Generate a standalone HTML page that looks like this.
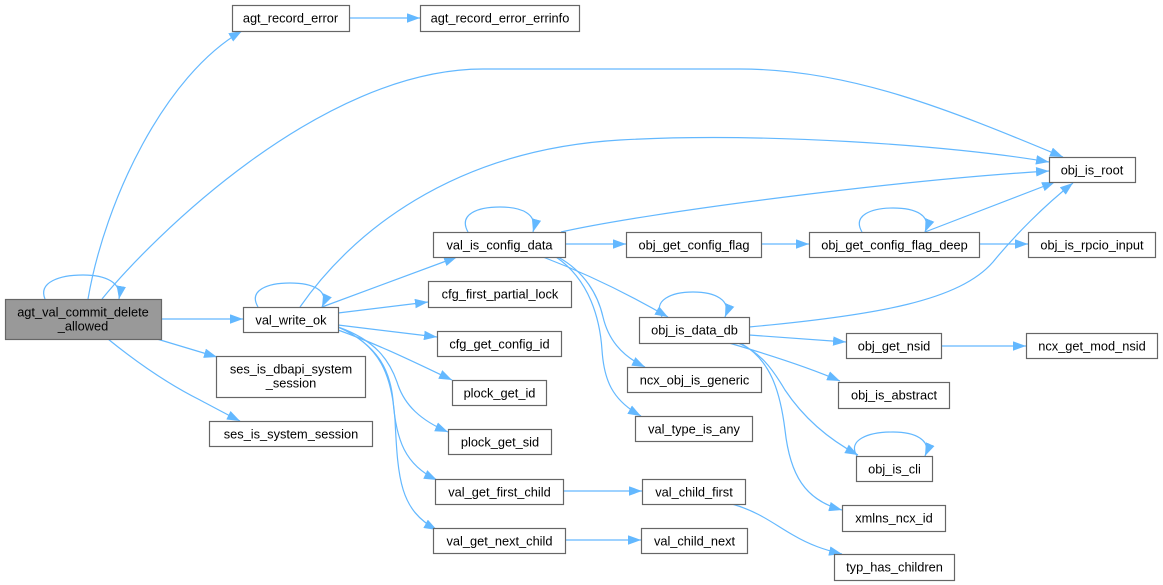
<!DOCTYPE html>
<html><head><meta charset="utf-8"><style>
html,body{margin:0;padding:0;background:#fff;}
svg{display:block;}
text{font-family:"Liberation Sans",Arial,sans-serif;font-size:12.8px;fill:#000;text-anchor:middle;}
.n{fill:#fff;stroke:#666;stroke-width:1.2;}
.e{fill:none;stroke:#63b8ff;stroke-width:1.2;marker-end:url(#a);}
</style></head><body>
<svg width="1163" height="585" viewBox="0 0 1163 585" xmlns="http://www.w3.org/2000/svg">
<defs>
<marker id="a" viewBox="0 0 10 7" refX="10" refY="3.5" markerWidth="13" markerHeight="9.5" markerUnits="userSpaceOnUse" orient="auto" preserveAspectRatio="none">
<path d="M0,0 L10,3.5 L0,7 z" fill="#63b8ff"/>
</marker>
</defs>

<!-- edges -->
<path class="e" d="M88,299 C105,200 165,75 242,31"/>
<path class="e" d="M102,299 C150,240 320,69 483,69 L740,69 C850,69 950,110 1063,157"/>
<path class="e" d="M45,299 C38,282 60,275 83,275 C105,275 122,282 119,299"/>
<path class="e" d="M161,319 L243,319"/>
<path class="e" d="M157,339 L217,357"/>
<path class="e" d="M108,339 C140,365 170,385 200,400 C215,408 228,415 240,421"/>
<path class="e" d="M349,18 L420,18"/>

<path class="e" d="M258,307 C248,290 268,283 290,283 C312,283 330,290 322,307"/>
<path class="e" d="M300,307 C350,235 450,150 620,140 C760,132 950,145 1049,162"/>
<path class="e" d="M322,307 L457,257"/>
<path class="e" d="M338,313 L428,302"/>
<path class="e" d="M338,325 L437,337"/>
<path class="e" d="M338,330 C380,345 420,365 452,380"/>
<path class="e" d="M338,327 C375,340 390,360 398,385 C405,405 420,420 448,432"/>
<path class="e" d="M338,327 C378,345 390,370 393,400 C396,440 405,465 437,480"/>
<path class="e" d="M338,327 C380,345 392,375 395,420 C398,480 400,510 437,530"/>

<path class="e" d="M468,232 C458,214 478,207 500,207 C522,207 538,214 533,232"/>
<path class="e" d="M561,232 C650,212 900,180 1049,171"/>
<path class="e" d="M565,244 L626,244"/>
<path class="e" d="M543,257 C590,275 630,295 668,317"/>
<path class="e" d="M558,257 C585,272 598,295 603,317 C608,338 620,355 645,367"/>
<path class="e" d="M556,257 C590,280 600,320 602,350 C604,380 612,400 641,416"/>

<path class="e" d="M761,244 L809,244"/>
<path class="e" d="M862,232 C852,215 872,208 893,208 C915,208 932,215 925,232"/>
<path class="e" d="M925,232 L1055,182"/>
<path class="e" d="M979,244 L1028,244"/>

<path class="e" d="M662,317 C652,300 672,292 693,292 C715,292 732,300 725,317"/>
<path class="e" d="M749,327 C880,315 960,300 993,262 C1015,235 1045,205 1073,183"/>
<path class="e" d="M749,335 L846,342"/>
<path class="e" d="M729,343 C770,355 810,368 840,381"/>
<path class="e" d="M738,343 C760,352 772,368 785,390 C805,420 830,440 858,455"/>
<path class="e" d="M742,344 C770,360 780,390 785,430 C790,475 805,500 842,510"/>
<path class="e" d="M857,456 C847,440 868,432 893,432 C915,432 932,440 925,456"/>
<path class="e" d="M941,346 L1026,346"/>

<path class="e" d="M563,491 L642,491"/>
<path class="e" d="M565,540 L641,540"/>
<path class="e" d="M732,504 C760,512 775,525 793,535 C810,545 825,550 842,554"/>

<!-- nodes -->
<rect x="5.5" y="299.5" width="156" height="40" fill="#999" stroke="#666" stroke-width="1.2"/>
<text x="83" y="316.5">agt_val_commit_delete</text>
<text x="83" y="330.5">_allowed</text>

<rect class="n" x="232.5" y="5.5" width="117" height="26"/><text x="290.5" y="22.5">agt_record_error</text>
<rect class="n" x="420.5" y="5.5" width="159" height="26"/><text x="500" y="22.5">agt_record_error_errinfo</text>
<rect class="n" x="1049.5" y="157.5" width="86" height="25"/><text x="1092" y="174.5">obj_is_root</text>
<rect class="n" x="243.5" y="307.5" width="95" height="25"/><text x="291" y="324.5">val_write_ok</text>

<rect class="n" x="216.5" y="356.5" width="149" height="41"/>
<text x="291" y="373.5">ses_is_dbapi_system</text>
<text x="291" y="387.5">_session</text>
<rect class="n" x="209.5" y="421.5" width="163" height="25"/><text x="291" y="438.5">ses_is_system_session</text>

<rect class="n" x="433.5" y="232.5" width="132" height="25"/><text x="499.5" y="249.5">val_is_config_data</text>
<rect class="n" x="428.5" y="281.5" width="143" height="26"/><text x="500" y="298.5">cfg_first_partial_lock</text>
<rect class="n" x="437.5" y="331.5" width="124" height="25"/><text x="499.5" y="348.5">cfg_get_config_id</text>
<rect class="n" x="452.5" y="380.5" width="94" height="25"/><text x="499.5" y="397.5">plock_get_id</text>
<rect class="n" x="448.5" y="429.5" width="103" height="25"/><text x="500" y="446.5">plock_get_sid</text>
<rect class="n" x="435.5" y="479.5" width="128" height="25"/><text x="499.5" y="496.5">val_get_first_child</text>
<rect class="n" x="433.5" y="528.5" width="132" height="25"/><text x="499.5" y="545.5">val_get_next_child</text>

<rect class="n" x="626.5" y="232.5" width="135" height="25"/><text x="694" y="249.5">obj_get_config_flag</text>
<rect class="n" x="639.5" y="317.5" width="110" height="26"/><text x="694.5" y="334.5">obj_is_data_db</text>
<rect class="n" x="627.5" y="367.5" width="134" height="25"/><text x="694.5" y="384.5">ncx_obj_is_generic</text>
<rect class="n" x="635.5" y="416.5" width="117" height="25"/><text x="694" y="433.5">val_type_is_any</text>
<rect class="n" x="642.5" y="479.5" width="103" height="25"/><text x="694" y="496.5">val_child_first</text>
<rect class="n" x="641.5" y="528.5" width="106" height="25"/><text x="694.5" y="545.5">val_child_next</text>

<rect class="n" x="809.5" y="232.5" width="170" height="25"/><text x="894.5" y="249.5">obj_get_config_flag_deep</text>
<rect class="n" x="1028.5" y="232.5" width="127" height="25"/><text x="1092" y="249.5">obj_is_rpcio_input</text>
<rect class="n" x="846.5" y="333.5" width="95" height="25"/><text x="894" y="350.5">obj_get_nsid</text>
<rect class="n" x="1026.5" y="333.5" width="131" height="25"/><text x="1092" y="350.5">ncx_get_mod_nsid</text>
<rect class="n" x="838.5" y="382.5" width="111" height="26"/><text x="894" y="399.5">obj_is_abstract</text>
<rect class="n" x="856.5" y="456.5" width="76" height="25"/><text x="894.5" y="473.5">obj_is_cli</text>
<rect class="n" x="842.5" y="505.5" width="103" height="26"/><text x="894" y="522.5">xmlns_ncx_id</text>
<rect class="n" x="834.5" y="554.5" width="120" height="26"/><text x="894.5" y="571.5">typ_has_children</text>
</svg>
</body></html>
